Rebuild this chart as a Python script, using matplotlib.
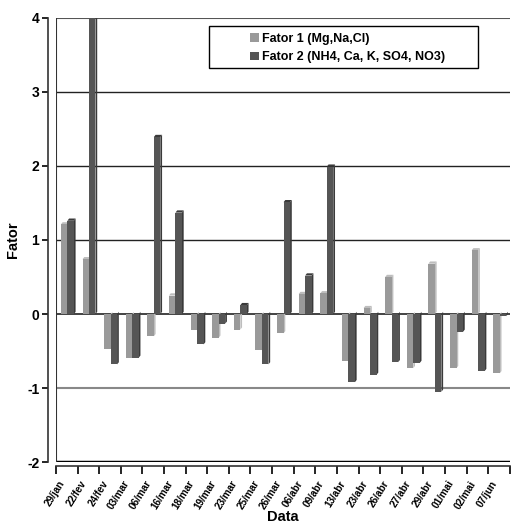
import matplotlib
matplotlib.use('Agg')
import matplotlib.pyplot as plt
import matplotlib.transforms as mtrans
from matplotlib.patches import Polygon, Rectangle
import numpy as np

plt.rcParams['font.family'] = ['Liberation Sans', 'DejaVu Sans']
plt.rcParams['font.weight'] = 'bold'

datas = ['29/jan', '22/fev', '24/fev', '03/mar', '06/mar', '16/mar', '18/mar',
         '19/mar', '23/mar', '25/mar', '26/mar', '06/abr', '09/abr', '13/abr',
         '23/abr', '26/abr', '27/abr', '29/abr', '01/mai', '02/mai', '07/jun']
fator1 = [1.21, 0.74, -0.47, -0.59, -0.30, 0.25, -0.21, -0.32, -0.21, -0.49, -0.26,
          0.27, 0.28, -0.64, 0.08, 0.50, -0.73, 0.68, -0.73, 0.86, -0.80]
fator2 = [1.26, 4.00, -0.68, -0.59, 2.39, 1.37, -0.41, -0.13, 0.12, -0.68, 1.51,
          0.52, 1.99, -0.92, -0.82, -0.65, -0.66, -1.05, -0.24, -0.77, -0.03]
nomes = ['Fator 1 (Mg,Na,Cl)', 'Fator 2 (NH4, Ca, K, SO4, NO3)']
cores = ['#9a9a9a', '#555555']
lados = ['#bdbdbd', '#3a3a3a']

W, H = 513, 524
fig = plt.figure(figsize=(W / 100, H / 100), dpi=100)
ax = fig.add_axes([0.109, 0.118, 0.885, 0.848])

# spines first (set_position resets the tick settings)
for s in ['top', 'right']:
    ax.spines[s].set_visible(False)
ax.spines['left'].set_position(('outward', 6))
ax.spines['bottom'].set_position(('outward', 3))
for s in ['left', 'bottom']:
    ax.spines[s].set_color('#333333')
    ax.spines[s].set_linewidth(1.2)

x = np.arange(len(datas))
w = 0.3
d = 0.08
dy = 0.03

# gridlines
for g in [1, 2, 3]:
    ax.axhline(g, color='#222222', lw=1.0, zorder=0)
ax.axhline(-1, color='#888888', lw=1.5, zorder=0)
ax.axhline(4, color='#555555', lw=1.5, zorder=0)
ax.axhline(0, color='#222222', lw=1.2, zorder=1)
ax.axhline(-2, color='black', lw=2.5, zorder=1)
ax.axvline(-0.5, color='#333333', lw=1.5, zorder=1)

def barras(pos, vals, cor, lado, label):
    ax.bar(pos, vals, width=w, align='edge', color=cor, edgecolor='none',
           zorder=3, label=label)
    for xi, v in zip(pos, vals):
        # side face
        side = Polygon([(xi + w, 0), (xi + w + d, dy), (xi + w + d, v + dy), (xi + w, v)],
                       closed=True, facecolor=lado, edgecolor='none', zorder=2.5)
        ax.add_patch(side)
        if v > 0:
            top = Polygon([(xi, v), (xi + w, v), (xi + w + d, v + dy), (xi + d, v + dy)],
                          closed=True, facecolor=lado, edgecolor='none', zorder=2.5)
            ax.add_patch(top)

barras(x - 0.27, fator1, cores[0], lados[0], nomes[0])
barras(x + 0.03, fator2, cores[1], lados[1], nomes[1])

ax.set_xlim(-0.5, len(datas) - 0.5)
ax.set_ylim(-2, 4)
ax.set_yticks([-2, -1, 0, 1, 2, 3, 4])
ax.set_yticklabels(['-2', '-1', '0', '1', '2', '3', '4'], fontsize=10, fontweight='bold')
ax.set_xticks(x)
ax.set_xticklabels(datas, rotation=58, ha='right', rotation_mode='anchor',
                   fontsize=7.2, fontweight='bold')
ax.tick_params(axis='x', which='major', length=0, pad=9)
ax.set_xticks(np.arange(len(datas) + 1) - 0.5, minor=True)
ax.tick_params(axis='x', which='minor', length=6, direction='out', width=1.2)
ax.tick_params(axis='y', length=4, width=1.2, pad=2)

desloc = mtrans.ScaledTranslation(-6 / 72, 0, fig.dpi_scale_trans)
for lbl in ax.get_xticklabels():
    lbl.set_transform(lbl.get_transform() + desloc)

ax.set_ylabel('Fator', fontsize=10.5, fontweight='bold', labelpad=5)
ax.set_xlabel('Data', fontsize=10.5, fontweight='bold')
ax.xaxis.set_label_coords(0.5, -0.107)

# legend box (Excel style, wider than its content)
caixa = Rectangle((209 / W, 1 - 68 / H), (478 - 209) / W, (68 - 26) / H,
                  transform=fig.transFigure, facecolor='white', edgecolor='black',
                  lw=1.0, zorder=5)
fig.patches.append(caixa)
handles, labels = ax.get_legend_handles_labels()
leg = fig.legend(handles, labels, loc='center left',
                 bbox_to_anchor=(244 / W, 1 - 48 / H), frameon=False,
                 handlelength=0.7, handleheight=0.7, handletextpad=0.2,
                 borderpad=0, labelspacing=0.55,
                 prop={'weight': 'bold', 'size': 9})
leg.set_zorder(6)

fig.savefig('out.png', dpi=100)
